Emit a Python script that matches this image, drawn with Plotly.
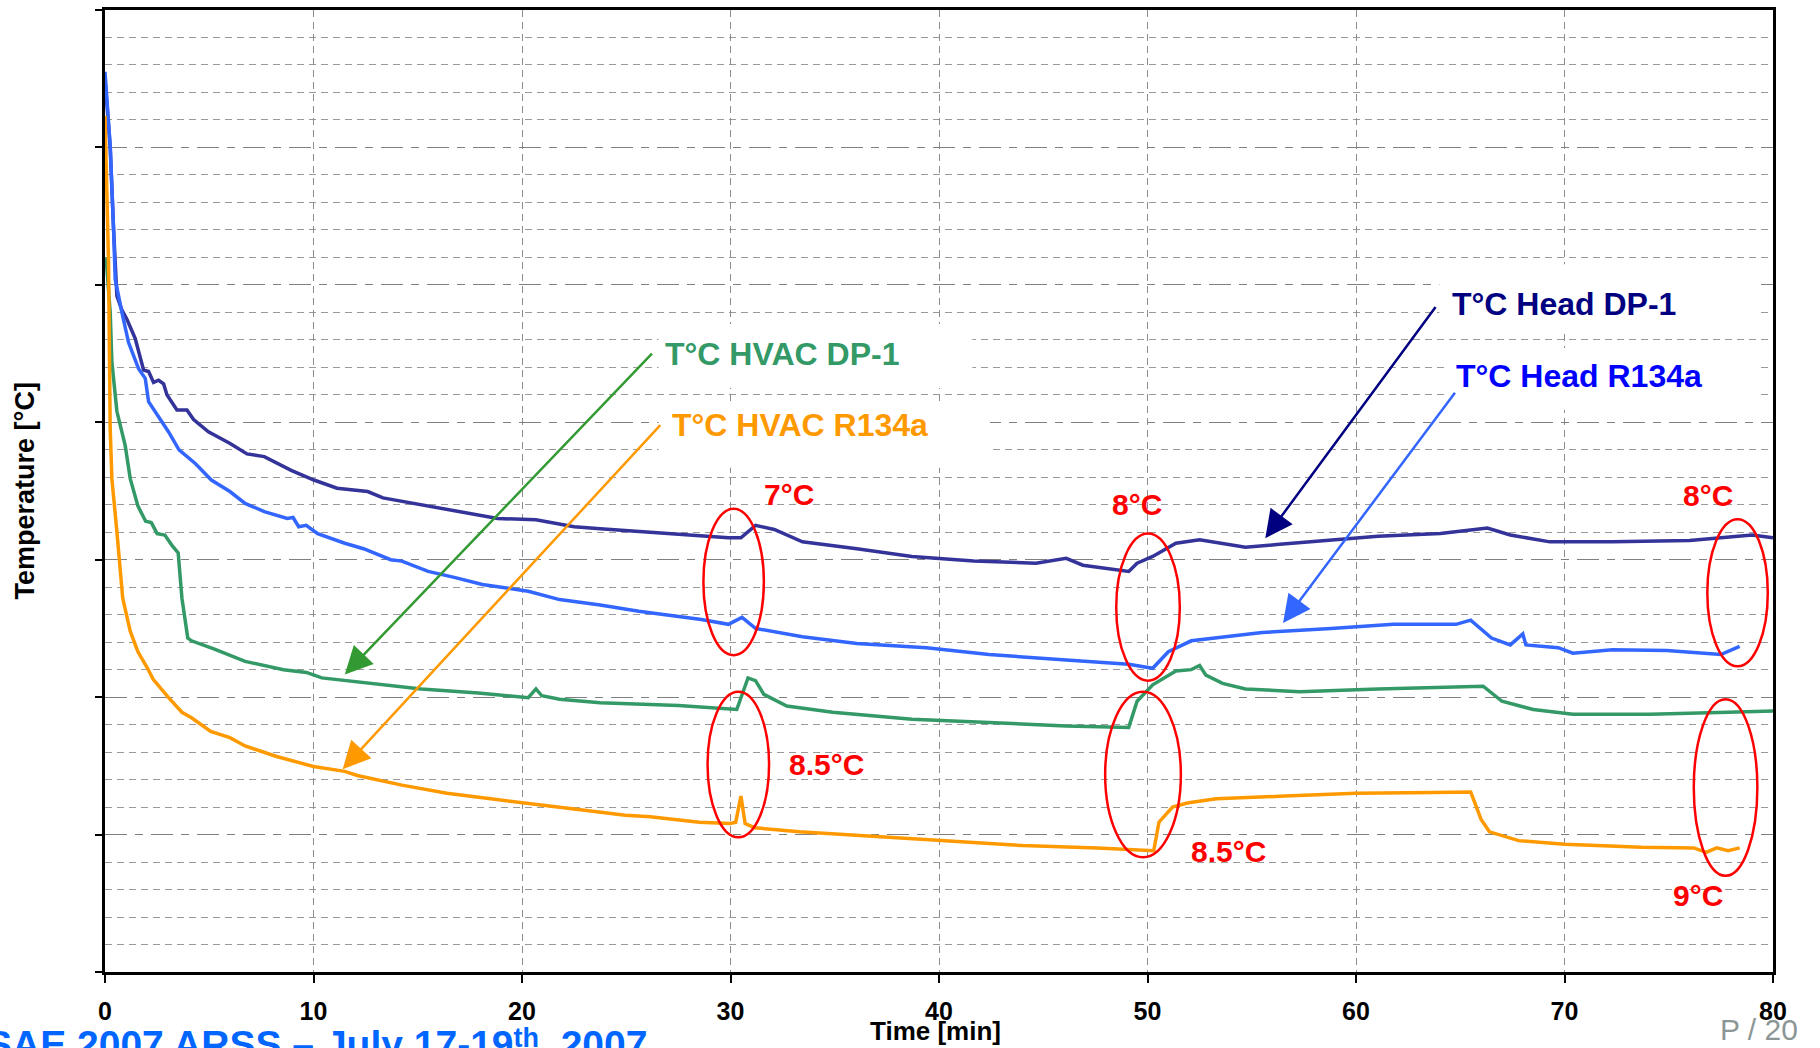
import plotly.graph_objects as go

# ---------------------------------------------------------------
# Cool-down test: temperature vs time, head and HVAC outlet,
# refrigerants DP-1 and R134a
# ---------------------------------------------------------------

# T°C Head DP-1
t_head_dp1 = [0.0, 0.25, 0.41, 0.57, 0.8, 1.05, 1.45, 1.85, 2.09, 2.33, 2.57, 2.81, 2.97,
              3.45, 3.93, 4.25, 4.96, 5.6, 6.0, 6.81, 7.64, 8.93, 10.02, 11.13, 12.6,
              13.33, 15.17, 16.99, 18.83, 20.67, 22.5, 23.75, 25.6, 27.5, 29.9, 30.5,
              31.2, 32.1, 33.45, 36.06, 38.7, 41.66, 44.65, 46.1, 46.9, 49.1, 49.5,
              50.25, 51.36, 52.5, 53.6, 54.7, 56.2, 58.45, 61.06, 64.05, 66.3, 67.4,
              69.3, 72.3, 76.0, 79.0, 80.0]
temp_head_dp1 = [65.0, 60.0, 54.1, 49.2, 48.2, 47.5, 46.1, 43.8, 43.7, 42.9, 43.06, 42.8, 42.0,
                 40.9, 40.9, 40.2, 39.3, 38.8, 38.46, 37.7, 37.5, 36.5, 35.8, 35.2, 34.96,
                 34.5, 34.0, 33.5, 33.0, 32.9, 32.4, 32.25, 32.05, 31.9, 31.6, 31.6,
                 32.5, 32.2, 31.3, 30.8, 30.24, 29.9, 29.75, 30.1, 29.6, 29.15, 29.75,
                 30.24, 31.2, 31.45, 31.2, 30.9, 31.1, 31.4, 31.7, 31.9, 32.3, 31.8,
                 31.3, 31.3, 31.4, 31.8, 31.6]

# T°C Head R134a
t_head_r134a = [0.0, 0.25, 0.41, 0.49, 0.81, 1.13, 1.61, 1.93, 2.09, 2.4, 3.05, 3.55, 4.33,
                5.1, 5.99, 6.72, 7.64, 8.74, 9.02, 9.29, 9.65, 10.2, 11.5, 12.4, 13.7,
                14.24, 15.5, 16.8, 18.1, 20.3, 21.8, 23.75, 25.6, 28.6, 29.9, 30.55, 31.2,
                33.45, 36.06, 39.4, 42.4, 46.1, 49.1, 50.25, 51.0, 52.1, 55.5, 58.8, 61.8,
                64.8, 65.5, 66.5, 67.4, 68.0, 68.15, 69.7, 70.4, 72.3, 74.9, 77.5, 78.4]
temp_head_r134a = [65.5, 60.1, 54.1, 50.4, 48.0, 45.8, 43.9, 43.2, 41.5, 40.8, 39.3, 38.0, 37.0,
                   35.8, 34.96, 34.1, 33.5, 33.0, 33.07, 32.4, 32.5, 31.9, 31.2, 30.8, 30.0,
                   29.9, 29.15, 28.7, 28.2, 27.7, 27.1, 26.7, 26.25, 25.65, 25.3, 25.8, 25.0,
                   24.4, 23.9, 23.6, 23.1, 22.7, 22.4, 22.1, 23.3, 24.1, 24.7, 25.0, 25.3,
                   25.3, 25.6, 24.3, 23.8, 24.6, 23.8, 23.6, 23.2, 23.45, 23.4, 23.1, 23.7]

# T°C HVAC DP-1
t_hvac_dp1 = [0.05, 0.25, 0.33, 0.57, 0.97, 1.21, 1.58, 1.95, 2.22, 2.5, 2.87, 3.23, 3.51,
              3.69, 3.97, 4.15, 5.25, 6.72, 8.56, 9.66, 10.4, 13.33, 15.17, 17.9, 20.3,
              20.67, 20.95, 21.8, 23.75, 27.5, 30.3, 30.84, 31.2, 31.6, 32.7, 34.9, 38.7,
              42.4, 46.1, 49.1, 49.5, 50.25, 51.36, 52.1, 52.5, 52.8, 53.6, 54.7, 57.3,
              61.06, 66.1, 67.0, 68.5, 70.4, 74.1, 77.85, 80.0]
temp_hvac_dp1 = [52.0, 48.0, 44.4, 40.8, 38.3, 35.9, 33.9, 32.8, 32.7, 31.9, 31.8, 31.0, 30.5,
                 27.2, 24.3, 24.1, 23.5, 22.6, 22.0, 21.8, 21.4, 20.9, 20.6, 20.3, 19.96,
                 20.6, 20.1, 19.84, 19.6, 19.4, 19.1, 21.4, 21.2, 20.2, 19.35, 18.9, 18.4,
                 18.15, 17.9, 17.8, 19.7, 20.9, 21.9, 22.0, 22.3, 21.6, 21.0, 20.6, 20.4,
                 20.6, 20.8, 19.7, 19.1, 18.75, 18.75, 18.9, 19.0]

# T°C HVAC R134a
t_hvac_r134a = [0.0, 0.17, 0.25, 0.33, 0.57, 0.85, 1.21, 1.58, 2.04, 2.31, 3.05, 3.69, 4.15,
                5.07, 5.99, 6.72, 8.19, 10.0, 11.5, 12.1, 14.24, 16.4, 18.5, 20.0, 22.8,
                24.95, 26.15, 28.5, 29.97, 30.25, 30.5, 30.7, 31.15, 33.3, 36.9, 40.0, 44.0,
                47.6, 50.05, 50.3, 50.55, 51.2, 51.9, 53.3, 56.6, 60.0, 63.7, 65.5, 66.0,
                66.4, 67.8, 70.0, 73.7, 76.2, 76.8, 77.3, 77.85, 78.4]
temp_hvac_r134a = [62.3, 51.6, 39.5, 35.9, 32.05, 27.2, 24.8, 23.3, 22.1, 21.3, 19.96, 18.9, 18.5,
                   17.5, 17.05, 16.45, 15.7, 14.95, 14.6, 14.3, 13.6, 13.0, 12.6, 12.3, 11.8,
                   11.4, 11.3, 10.9, 10.8, 10.9, 12.8, 10.8, 10.5, 10.2, 9.85, 9.56, 9.2,
                   9.03, 8.83, 8.83, 10.9, 12.0, 12.3, 12.6, 12.8, 13.0, 13.06, 13.1, 11.1,
                   10.2, 9.56, 9.3, 9.07, 9.03, 8.7, 9.03, 8.83, 9.03]

x_tick_values = [0, 10, 20, 30, 40, 50, 60, 70, 80]

# Series labels: text, colour, left edge (min), centre (°C)
series_labels = [
    ("T°C HVAC DP-1", "#339966", 26.75, 45.0),
    ("T°C HVAC R134a", "#FF9900", 27.1, 39.8),
    ("T°C Head DP-1", "#000080", 64.5, 48.6),
    ("T°C Head R134a", "#0000FF", 64.7, 43.4),
]
# White text boxes behind the labels: x0, x1, y0, y1
label_boxes = [
    (26.55, 41.6, 42.5, 47.15),
    (26.55, 42.45, 36.7, 41.5),
    (64.0, 79.3, 46.6, 51.5),
    (64.25, 79.3, 40.9, 45.4),
]
# Pointer arrows: colour, tail (x, y), head (x, y)
pointer_arrows = [
    ("#339933", (26.3, 45.1), (11.5, 21.65)),
    ("#FF9900", (26.7, 39.9), (11.4, 14.76)),
    ("#000080", (63.87, 48.5), (55.65, 31.57)),
    ("#3366FF", (64.8, 42.26), (56.5, 25.4)),
]
# Temperature-difference callouts: ellipse bounds and their labels
diff_ellipses = [
    (28.7, 31.6, 23.05, 33.7),
    (48.5, 51.55, 21.2, 31.9),
    (76.85, 79.75, 22.25, 32.95),
    (28.9, 31.85, 9.8, 20.4),
    (47.97, 51.6, 8.35, 20.4),
    (76.2, 79.25, 7.0, 19.84),
]
diff_labels = [
    ("7°C", 32.79, 34.78),
    ("8°C", 49.5, 34.05),
    ("8°C", 76.9, 34.67),
    ("8.5°C", 34.6, 15.07),
    ("8.5°C", 53.87, 8.77),
    ("9°C", 76.4, 5.57),
]

FONT = "Liberation Sans, Arial, sans-serif"

fig = go.Figure()

series = [
    (t_head_dp1, temp_head_dp1, "#333399", "T°C Head DP-1"),
    (t_head_r134a, temp_head_r134a, "#3366FF", "T°C Head R134a"),
    (t_hvac_dp1, temp_hvac_dp1, "#339966", "T°C HVAC DP-1"),
    (t_hvac_r134a, temp_hvac_r134a, "#FF9900", "T°C HVAC R134a"),
]
for t, temp, color, name in series:
    fig.add_trace(go.Scatter(x=t, y=temp, mode="lines", name=name,
                             line=dict(color=color, width=3.5), hoverinfo="skip"))

shapes = []
for x0, x1, y0, y1 in label_boxes:
    shapes.append(dict(type="rect", xref="x", yref="y", x0=x0, x1=x1, y0=y0, y1=y1,
                       fillcolor="white", line=dict(width=0), layer="between"))
for x0, x1, y0, y1 in diff_ellipses:
    shapes.append(dict(type="circle", xref="x", yref="y", x0=x0, x1=x1, y0=y0, y1=y1,
                       line=dict(color="#FF0000", width=2.5), layer="above"))

annotations = []
for color, (tx, ty), (hx, hy) in pointer_arrows:
    annotations.append(dict(x=hx, y=hy, ax=tx, ay=ty, xref="x", yref="y",
                            axref="x", ayref="y", text="", showarrow=True,
                            arrowhead=2, arrowsize=2.2, arrowwidth=2.5,
                            arrowcolor=color, standoff=0, startstandoff=0))
for text, color, x, y in series_labels:
    annotations.append(dict(x=x, y=y, xref="x", yref="y", text=text, showarrow=False,
                            xanchor="left", yanchor="middle",
                            font=dict(family=FONT, size=32, color=color, weight="bold")))
for text, x, y in diff_labels:
    annotations.append(dict(x=x, y=y, xref="x", yref="y", text=text, showarrow=False,
                            xanchor="center", yanchor="middle",
                            font=dict(family=FONT, size=30, color="#FF0000", weight="bold")))

# Axis titles
annotations.append(dict(x=-0.048, y=0.5005, xref="paper", yref="paper",
                        text="Temperature [°C]", textangle=-90, showarrow=False,
                        xanchor="center", yanchor="middle",
                        font=dict(family=FONT, size=27, color="black", weight="bold")))
annotations.append(dict(x=0.498, y=-0.0615, xref="paper", yref="paper",
                        text="Time [min]", showarrow=False,
                        xanchor="center", yanchor="middle",
                        font=dict(family=FONT, size=26, color="black", weight="bold")))
# Footer (ordinal suffix slightly raised) and page number
annotations.append(dict(x=-0.0725, y=-0.0508, xref="paper", yref="paper",
                        text=("SAE 2007 ARSS – July 17-19"
                              "<span style=\"font-size:27px;baseline-shift:11px\">th</span>, 2007"),
                        showarrow=False, xanchor="left", yanchor="top",
                        font=dict(family=FONT, size=39, color="#0066FF", weight="bold")))
annotations.append(dict(x=0.967, y=-0.0405, xref="paper", yref="paper",
                        text="P / 20", showarrow=False,
                        xanchor="left", yanchor="top",
                        font=dict(family=FONT, size=30, color="#8C9696")))

fig.update_layout(
    width=1820, height=1048,
    margin=dict(l=105, r=47, t=7, b=76),
    paper_bgcolor="white", plot_bgcolor="white",
    showlegend=False,
    font=dict(family=FONT, color="black"),
    shapes=shapes,
    annotations=annotations,
)

fig.update_xaxes(
    range=[0, 80], tickvals=x_tick_values, ticktext=[str(v) for v in x_tick_values],
    showgrid=True, gridcolor="#8C8C8C", gridwidth=1, griddash="7px,5px",
    showline=True, linecolor="black", linewidth=2.5, mirror=True,
    ticks="outside", ticklen=8, tickwidth=1.5, tickcolor="black",
    tickfont=dict(family=FONT, size=25, color="black", weight="bold"),
    ticklabelstandoff=7, zeroline=False, fixedrange=True,
)
fig.update_yaxes(
    range=[0, 70], dtick=10, tick0=0, showticklabels=False,
    showgrid=True, gridcolor="#808080", gridwidth=1, griddash="22px,8px,8px,8px",
    minor=dict(dtick=2, showgrid=True, gridcolor="#9A9A9A", gridwidth=1,
               griddash="7px,5px", ticks=""),
    showline=True, linecolor="black", linewidth=2.5, mirror=True,
    ticks="outside", ticklen=7, tickwidth=1.5, tickcolor="black",
    zeroline=False, fixedrange=True,
)

fig.write_html("out.html")
